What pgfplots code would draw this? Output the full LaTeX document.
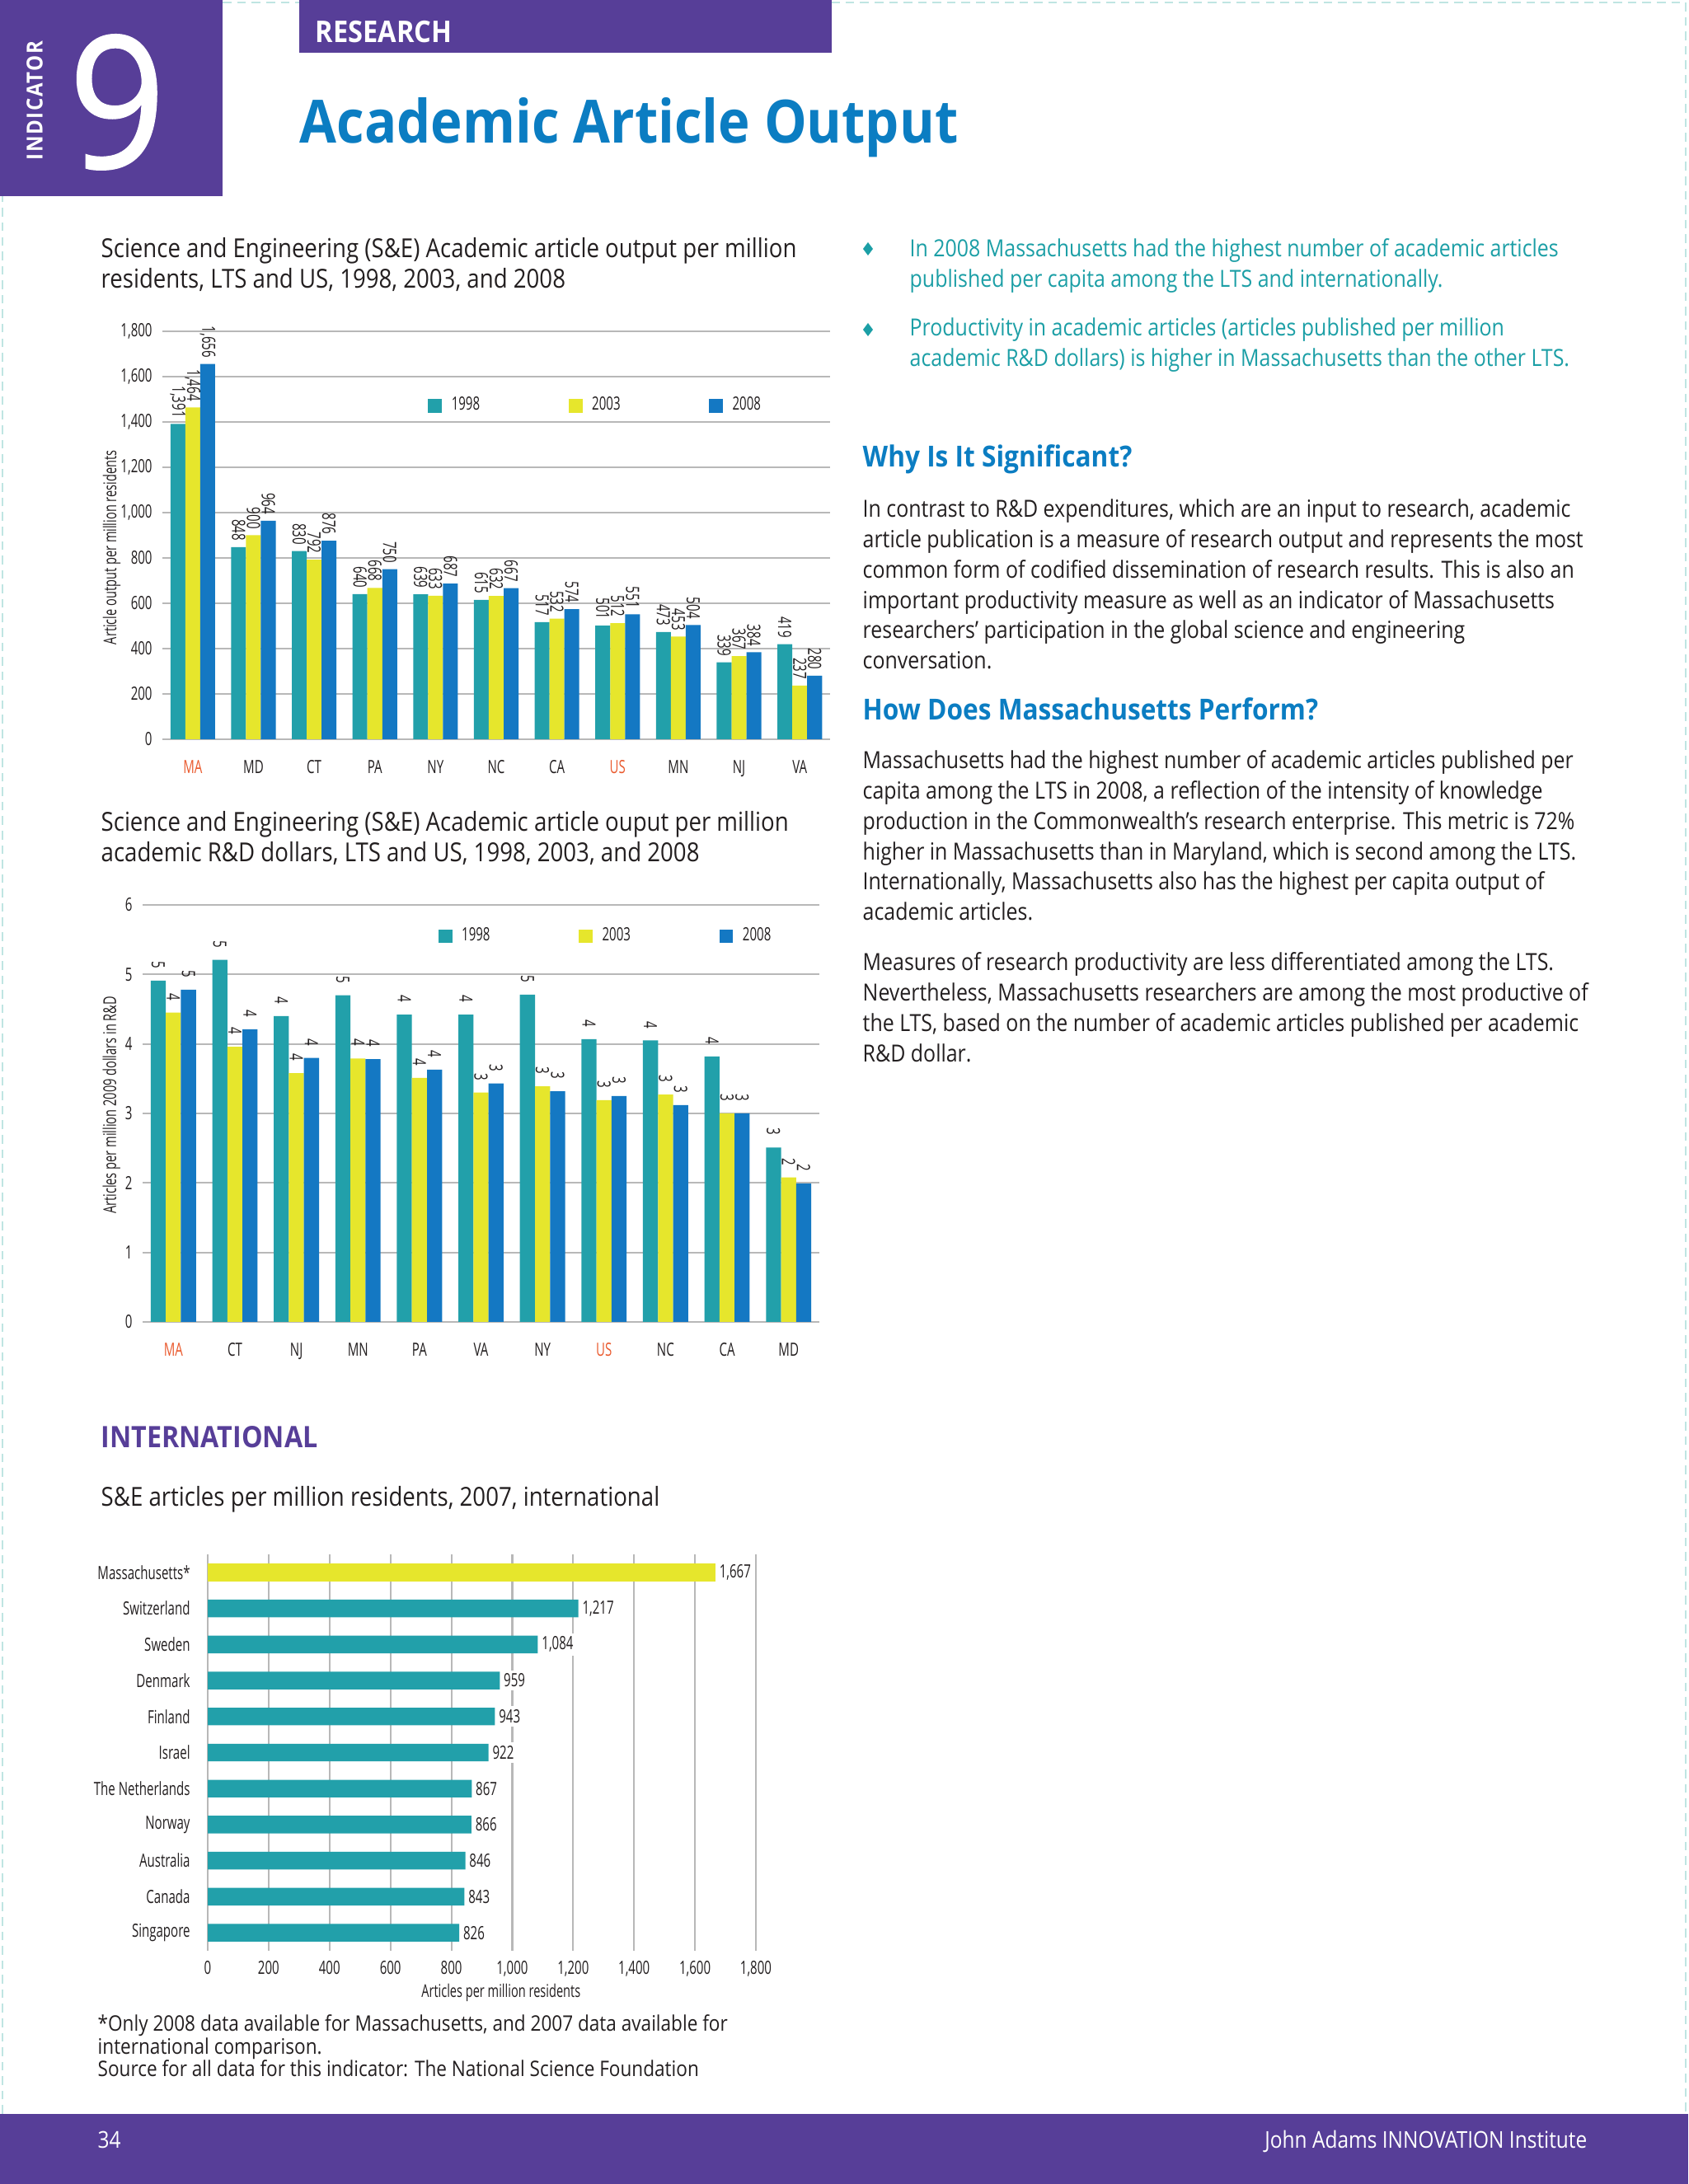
\documentclass[border=0pt]{standalone}
\usepackage{pgfplots}
\pgfplotsset{compat=1.18}
\usepackage{pgfplotstable}
\usepackage{fontspec}
\setmainfont{Open Sans}[FakeStretch=0.68]
\newfontfamily\textfam{Open Sans}[FakeStretch=0.87]
\newfontfamily\headfont{Open Sans}[FakeStretch=0.9]
\newfontfamily\ninefont{Open Sans}[FakeBold=1, FakeStretch=0.92]

\definecolor{cteal}{HTML}{22A0AA}
\definecolor{cyel}{HTML}{E6E62C}
\definecolor{cblue}{HTML}{1478C3}
\definecolor{corg}{HTML}{EA5A2E}
\definecolor{cpurp}{HTML}{573E98}
\definecolor{ctitle}{HTML}{0B7DC2}
\definecolor{cbul}{HTML}{1C9FA6}
\definecolor{cgrid}{HTML}{B8B8B8}
\definecolor{ctext}{HTML}{231F20}
\definecolor{cdash}{HTML}{BFE5E2}

\newcommand\tickfont{\fontsize{6.3pt}{7pt}\selectfont}
\newcommand\labfont{\fontsize{6.1pt}{7pt}\selectfont}
\newcommand\bodyfont{\textfam\fontsize{8.15pt}{10.45pt}\selectfont}
\newcommand\ctitlefont{\textfam\fontsize{9.03pt}{10.5pt}\selectfont}

% per million residents
\pgfplotstableread{
x   y98   y03   y08
0   1391  1464  1656
1   848   900   964
2   830   792   876
3   640   668   750
4   639   633   687
5   615   632   667
6   517   532   574
7   501   512   551
8   473   453   504
9   339   367   384
10  419   237   280
}\perres

% per million R&D dollars
\pgfplotstableread{
x   y98   y03   y08
0   4.91  4.45  4.78
1   5.21  3.96  4.21
2   4.40  3.58  3.80
3   4.70  3.79  3.78
4   4.42  3.51  3.63
5   4.42  3.30  3.43
6   4.71  3.39  3.32
7   4.07  3.19  3.25
8   4.05  3.27  3.12
9   3.82  3.00  3.00
10  2.51  2.08  1.99
}\perrd

\pgfplotsset{
  pagebars/.style={
    scale only axis, clip=false, ybar=0pt,
    xmin=-0.5, xmax=10.5, xtick={0,...,10},
    axis line style={draw=none},
    major tick length=0pt,
    ymajorgrids, grid style={cgrid, line width=0.6pt},
    /pgf/number format/assume math mode=true,
    /pgf/number format/1000 sep={,},
    tick label style={font=\tickfont, text=ctext},
    xticklabel style={yshift=-1.3mm},
    ylabel style={font=\labfont, text=ctext},
    bar width=0.245,
    nodes near coords,
    every node near coord/.append style={rotate=-90, anchor=east, font=\tickfont, text=ctext},
    legend columns=3,
    legend image code/.code={\fill[##1] (0pt,-2.4pt) rectangle (4.8pt,2.4pt); \path (7.1pt,0pt);},
    legend style={draw=none, fill=none, inner sep=0pt, font=\tickfont, text=ctext,
      nodes={inner sep=1pt}, /tikz/every even column/.append style={column sep=1.04cm}},
  },
}

\begin{document}
\begin{tikzpicture}[x=1cm, y=1cm]
\path[use as bounding box, fill=white] (0,0) rectangle (20.48,26.5);

% page frame and header
\draw[cdash, line width=0.6pt, dash pattern=on 3pt off 2pt] (0.03,0.85) -- (0.03,26.47) -- (20.45,26.47) -- (20.45,0.85);
\fill[cpurp] (0,26.5) rectangle (2.70,24.12);
\node[rotate=90, text=white, inner sep=0] at (0.42,25.28)
  {\headfont\bfseries\fontsize{7.6pt}{8pt}\selectfont\addfontfeatures{LetterSpace=6}INDICATOR};
\node[text=white, inner sep=0] at (1.42,25.26) {\ninefont\fontsize{63.5pt}{64pt}\selectfont 9};
\fill[cpurp] (3.63,26.5) rectangle (10.09,25.86);
\node[anchor=base west, text=white, inner sep=0] at (3.82,25.98)
  {\headfont\bfseries\fontsize{10.3pt}{11pt}\selectfont RESEARCH};
\node[anchor=base west, text=ctitle, inner sep=0] at (3.63,24.76)
  {\headfont\bfseries\fontsize{20.6pt}{22pt}\selectfont Academic Article Output};

% chart titles
\node[anchor=base west, text=ctext, inner sep=0] at (1.22,23.37) {\parbox[t]{10cm}{\ctitlefont
  Science and Engineering (S\&E) Academic article output per million\\
  residents, LTS and US, 1998, 2003, and 2008}};
\node[anchor=base west, text=ctext, inner sep=0] at (1.22,16.41) {\parbox[t]{10cm}{\ctitlefont
  Science and Engineering (S\&E) Academic article ouput per million\\
  academic R\&D dollars, LTS and US, 1998, 2003, and 2008}};
\node[anchor=base west, text=cpurp, inner sep=0] at (1.22,8.93)
  {\headfont\bfseries\fontsize{10.2pt}{11pt}\selectfont INTERNATIONAL};
\node[anchor=base west, text=ctext, inner sep=0] at (1.22,8.22)
  {\ctitlefont S\&E articles per million residents, 2007, international};

% right column
\fill[cbul] (10.53,23.56) -- (10.59,23.48) -- (10.53,23.40) -- (10.47,23.48) -- cycle;
\fill[cbul] (10.53,22.58) -- (10.59,22.50) -- (10.53,22.42) -- (10.47,22.50) -- cycle;
\node[anchor=base west, text=cbul, inner sep=0] at (11.03,23.38) {\parbox[t]{10cm}{\bodyfont
  In 2008 Massachusetts had the highest number of academic articles\\
  published per capita among the LTS and internationally.}};
\node[anchor=base west, text=cbul, inner sep=0] at (11.03,22.42) {\parbox[t]{10cm}{\bodyfont
  Productivity in academic articles (articles published per million\\
  academic R\&D dollars) is higher in Massachusetts than the other LTS.}};
\node[anchor=base west, text=ctitle, inner sep=0] at (10.46,20.83)
  {\headfont\bfseries\fontsize{10pt}{11pt}\selectfont Why Is It Significant?};
\node[anchor=base west, text=ctext, inner sep=0] at (10.46,20.22) {\parbox[t]{10cm}{\bodyfont
  In contrast to R\&D expenditures, which are an input to research, academic\\
  article publication is a measure of research output and represents the most\\
  common form of codified dissemination of research results. This is also an\\
  important productivity measure as well as an indicator of Massachusetts\\
  researchers’ participation in the global science and engineering\\
  conversation.}};
\node[anchor=base west, text=ctitle, inner sep=0] at (10.46,17.76)
  {\headfont\bfseries\fontsize{10pt}{11pt}\selectfont How Does Massachusetts Perform?};
\node[anchor=base west, text=ctext, inner sep=0] at (10.46,17.17) {\parbox[t]{10cm}{\bodyfont
  Massachusetts had the highest number of academic articles published per\\
  capita among the LTS in 2008, a reflection of the intensity of knowledge\\
  production in the Commonwealth’s research enterprise. This metric is 72\%\\
  higher in Massachusetts than in Maryland, which is second among the LTS.\\
  Internationally, Massachusetts also has the highest per capita output of\\
  academic articles.}};
\node[anchor=base west, text=ctext, inner sep=0] at (10.46,14.72) {\parbox[t]{10cm}{\bodyfont
  Measures of research productivity are less differentiated among the LTS.\\
  Nevertheless, Massachusetts researchers are among the most productive of\\
  the LTS, based on the number of academic articles published per academic\\
  R\&D dollar.}};

% chart 1
\begin{axis}[pagebars,
  at={(1.97cm,17.53cm)}, anchor=south west,
  width=8.10cm, height=4.95cm,
  ymin=0, ymax=1800, ytick={0,200,...,1800},
  xticklabels={\textcolor{corg}{MA},MD,CT,PA,NY,NC,CA,\textcolor{corg}{US},MN,NJ,VA},
  ylabel={Article output per million residents},
  ylabel style={at={(axis description cs:-0.076,0.47)}, anchor=center},
  every node near coord/.append style={inner sep=2pt},
  legend style={at={(0.397,0.818)}, anchor=west},
]
\addplot[fill=cteal, draw=none, bar shift=-0.245] table[x=x, y=y98] {\perres};
\addplot[fill=cyel, draw=none, bar shift=0] table[x=x, y=y03] {\perres};
\addplot[fill=cblue, draw=none, bar shift=0.245] table[x=x, y=y08] {\perres};
\legend{1998,2003,2008}
\end{axis}

% chart 2
\begin{axis}[pagebars,
  at={(1.73cm,10.46cm)}, anchor=south west,
  width=8.21cm, height=5.06cm,
  ymin=0, ymax=6, ytick={0,...,6},
  xticklabels={\textcolor{corg}{MA},CT,NJ,MN,PA,VA,NY,\textcolor{corg}{US},NC,CA,MD},
  ylabel={Articles per million 2009 dollars in R\&D},
  ylabel style={at={(axis description cs:-0.046,0.52)}, anchor=center},
  nodes near coords={\pgfmathprintnumber[fixed,precision=0]{\pgfplotspointmeta}},
  every node near coord/.append style={inner sep=4pt},
  legend style={at={(0.436,0.925)}, anchor=west},
]
\addplot[fill=cteal, draw=none, bar shift=-0.245] table[x=x, y=y98] {\perrd};
\addplot[fill=cyel, draw=none, bar shift=0] table[x=x, y=y03] {\perrd};
\addplot[fill=cblue, draw=none, bar shift=0.245] table[x=x, y=y08] {\perrd};
\legend{1998,2003,2008}
\end{axis}

% chart 3
\begin{axis}[
  at={(2.52cm,2.83cm)}, anchor=south west, scale only axis, clip=false,
  width=6.65cm, height=4.81cm,
  xbar, bar width=0.49,
  xmin=0, xmax=1800, xtick={0,200,...,1800},
  ymin=-0.5, ymax=10.5, y dir=reverse, ytick={0,...,10},
  yticklabels={Massachusetts*,Switzerland,Sweden,Denmark,Finland,Israel,The Netherlands,Norway,Australia,Canada,Singapore},
  axis line style={draw=none}, major tick length=0pt,
  xmajorgrids, grid style={cgrid, line width=0.6pt},
  /pgf/number format/assume math mode=true,
  /pgf/number format/1000 sep={,},
  tick label style={font=\tickfont, text=ctext},
  yticklabel style={xshift=-0.9mm},
  xlabel={Articles per million residents},
  xlabel style={font=\labfont, text=ctext, at={(axis description cs:0.535,-0.106)}, anchor=center},
  nodes near coords,
  every node near coord/.append style={anchor=west, font=\tickfont, text=ctext, fill=white, inner sep=1.2pt},
]
\addplot[fill=cteal, draw=none, bar shift=0] coordinates {
  (1217,1) (1084,2) (959,3) (943,4) (922,5) (867,6) (866,7) (846,8) (843,9) (826,10)};
\addplot[fill=cyel, draw=none, bar shift=0] coordinates {(1667,0)};
\end{axis}

% footnote and footer
\node[anchor=base west, text=ctext, inner sep=0] at (1.18,1.85) {\parbox[t]{10cm}{\textfam\fontsize{7.38pt}{7.7pt}\selectfont
  *Only 2008 data available for Massachusetts, and 2007 data available for\\
  international comparison.\\
  Source for all data for this indicator: The National Science Foundation}};
\fill[cpurp] (0,0) rectangle (20.48,0.85);
\node[anchor=base west, text=white, inner sep=0] at (1.18,0.43) {\textfam\fontsize{8pt}{9pt}\selectfont 34};
\node[anchor=base east, text=white, inner sep=0] at (19.26,0.43) {\textfam\fontsize{8pt}{9pt}\selectfont John Adams INNOVATION Institute};
\end{tikzpicture}
\end{document}
